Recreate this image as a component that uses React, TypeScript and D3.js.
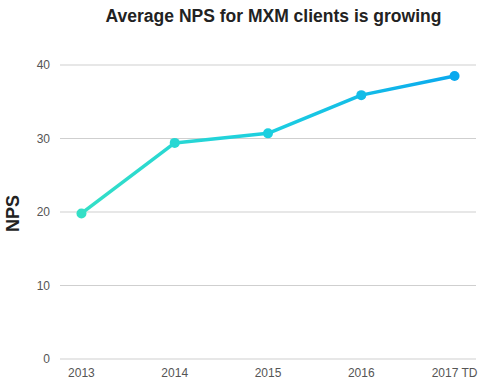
import React, {useEffect, useRef} from 'react';
import * as d3 from 'd3';

// chart data
const years = ['2013', '2014', '2015', '2016', '2017 TD'];
const nps = [19.8, 29.4, 30.7, 35.9, 38.5];
const yTicks = [0, 10, 20, 30, 40];

const W = 491;
const H = 388;

export default function App(){
    const ref = useRef(null);

    useEffect(()=>{
        const svg = d3.select(ref.current);
        svg.selectAll('*').remove();

        const left = 60, right = 476, top = 65, bottom = 359;

        const xScale = d3.scalePoint()
            .domain(years)
            .range([left, right])
            .padding(0.23);

        const yScale = d3.scaleLinear()
            .domain([0, 40])
            .range([bottom, top]);

        //gradient for the line, teal to blue
        const defs = svg.append('defs');
        const grad = defs.append('linearGradient')
            .attr('id', 'lineGrad')
            .attr('gradientUnits', 'userSpaceOnUse')
            .attr('x1', xScale(years[0])).attr('x2', xScale(years[years.length-1]))
            .attr('y1', 0).attr('y2', 0);
        grad.append('stop').attr('offset', '0%').attr('stop-color', '#34dfc6');
        grad.append('stop').attr('offset', '50%').attr('stop-color', '#1ccfe0');
        grad.append('stop').attr('offset', '100%').attr('stop-color', '#0aa9ee');
        const colorAt = d3.scaleLinear<string>()
            .domain([0, 2, 4])
            .range(['#34dfc6', '#1ccfe0', '#0aa9ee']);

        //grid lines
        svg.append('g').selectAll('line').data(yTicks).enter().append('line')
            .attr('x1', left).attr('x2', right)
            .attr('y1', d => yScale(d)).attr('y2', d => yScale(d))
            .attr('stroke', '#cfcfcf').attr('stroke-width', 1);

        svg.append('g').selectAll('text').data(yTicks).enter().append('text')
            .attr('x', 50).attr('y', d => yScale(d) + 4)
            .attr('text-anchor', 'end')
            .attr('font-family', 'Liberation Sans, Arial, sans-serif')
            .attr('font-size', 12).attr('fill', '#555')
            .text(d => d);

        svg.append('g').selectAll('text').data(years).enter().append('text')
            .attr('x', d => xScale(d)).attr('y', 377)
            .attr('text-anchor', 'middle')
            .attr('font-family', 'Liberation Sans, Arial, sans-serif')
            .attr('font-size', 12).attr('fill', '#555')
            .text(d => d);

        const line = d3.line<number>()
            .x((d, i) => xScale(years[i]))
            .y(d => yScale(d));

        svg.append('path').datum(nps)
            .attr('d', line)
            .attr('fill', 'none')
            .attr('stroke', 'url(#lineGrad)')
            .attr('stroke-width', 3.5)
            .attr('stroke-linejoin', 'round');

        svg.append('g').selectAll('circle').data(nps).enter().append('circle')
            .attr('cx', (d, i) => xScale(years[i]))
            .attr('cy', d => yScale(d))
            .attr('r', 5)
            .attr('fill', (d, i) => colorAt(i));

        svg.append('text')
            .attr('x', 273.5).attr('y', 21.5)
            .attr('text-anchor', 'middle')
            .attr('font-family', 'Liberation Sans, Arial, sans-serif')
            .attr('font-size', 17.5).attr('font-weight', 'bold').attr('fill', '#222')
            .text('Average NPS for MXM clients is growing');

        svg.append('text')
            .attr('transform', 'translate(18.5,' + 213.5 + ')rotate(-90)')
            .attr('text-anchor', 'middle')
            .attr('font-family', 'Liberation Sans, Arial, sans-serif')
            .attr('font-size', 18).attr('font-weight', 'bold').attr('fill', '#222')
            .text('NPS');
    }, []);

    return (
        <svg ref={ref} width={W} height={H}
            style={{position: 'absolute', left: 0, top: 0, background: 'white'}}></svg>
    );
}
